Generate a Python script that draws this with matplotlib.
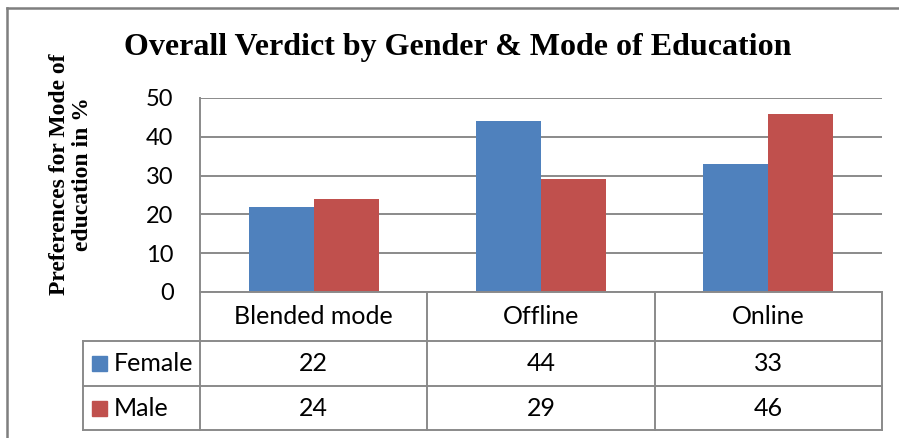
import matplotlib.pyplot as plt
from matplotlib.lines import Line2D
from matplotlib.patches import Rectangle

categories = ["Blended mode", "Offline", "Online"]
series = ["Female", "Male"]
female = [22, 44, 33]
male = [24, 29, 46]
colors = ["#4F81BD", "#C0504D"]

W, H = 899, 438
grid_col = "#8a8a8a"
sans = ["Lato", "DejaVu Sans"]
serif = ["Liberation Serif", "DejaVu Serif"]

fig = plt.figure(figsize=(W / 100, H / 100), dpi=100)


def px(x0, y0, x1, y1):
    # pixel box (top-left origin) -> figure fraction rect
    return [x0 / W, 1 - y1 / H, (x1 - x0) / W, (y1 - y0) / H]


# outer chart frame
fig.add_artist(Line2D([7 / W, 1], [1 - 8 / H, 1 - 8 / H], color="#7f7f7f", lw=1.8))
fig.add_artist(Line2D([7 / W, 7 / W], [0, 1 - 8 / H], color="#7f7f7f", lw=1.8))

ax = fig.add_axes(px(200, 98, 882, 292))
bw = 0.286
xs = range(len(categories))
ax.bar([x - bw / 2 for x in xs], female, width=bw, color=colors[0], zorder=3)
ax.bar([x + bw / 2 for x in xs], male, width=bw, color=colors[1], zorder=3)
ax.set_xlim(-0.5, 2.5)
ax.set_ylim(0, 50)
ax.set_yticks(range(0, 51, 10))
ax.set_xticks([])
ax.yaxis.grid(True, color=grid_col, lw=1.4)
ax.set_axisbelow(True)
for s in ["top", "right", "bottom"]:
    ax.spines[s].set_visible(False)
ax.spines["left"].set_color(grid_col)
ax.spines["left"].set_linewidth(1.4)
ax.tick_params(axis="y", length=0, pad=19, labelsize=17)
for lab in ax.get_yticklabels():
    lab.set_fontfamily(sans)

fig.text(458 / W, 1 - 47 / H, "Overall Verdict by Gender & Mode of Education",
         ha="center", va="center", fontsize=23, fontweight="bold", family=serif)
fig.text(71 / W, 1 - 174 / H, "Preferences for Mode of\neducation in %",
         rotation=90, ha="center", va="center", fontsize=17, fontweight="bold",
         family=serif, linespacing=1.15)

# data table under the plot
lw_lab = 117 / 227.33
tab = fig.add_axes(px(83, 292, 882, 430))
tab.set_xlim(-0.5 - lw_lab, 2.5)
tab.set_ylim(138, 0)
tab.axis("off")
rows = [0, 49, 94, 138]
line_kw = dict(color=grid_col, lw=1.4, clip_on=False)
tab.plot([-0.5, 2.5], [0, 0], **line_kw)
for y in rows[1:]:
    tab.plot([-0.5 - lw_lab, 2.5], [y, y], **line_kw)
for x in [-0.5, 0.5, 1.5, 2.5]:
    tab.plot([x, x], [0, 138], **line_kw)
tab.plot([-0.5 - lw_lab, -0.5 - lw_lab], [49, 138], **line_kw)

for i, cat in enumerate(categories):
    tab.text(i, (rows[0] + rows[1]) / 2, cat, ha="center", va="center",
             fontsize=18, family=sans)
for r, (name, vals) in enumerate(zip(series, [female, male])):
    yc = (rows[r + 1] + rows[r + 2]) / 2
    sw = 15 / 227.33
    x0 = -0.5 - lw_lab + 9 / 227.33
    tab.add_patch(Rectangle((x0, yc - 7.5), sw, 15, color=colors[r], clip_on=False))
    tab.text(x0 + sw + 7 / 227.33, yc, name, ha="left", va="center",
             fontsize=18, family=sans)
    for i, v in enumerate(vals):
        tab.text(i, yc, str(v), ha="center", va="center", fontsize=18, family=sans)

fig.savefig("out.png", dpi=100)
